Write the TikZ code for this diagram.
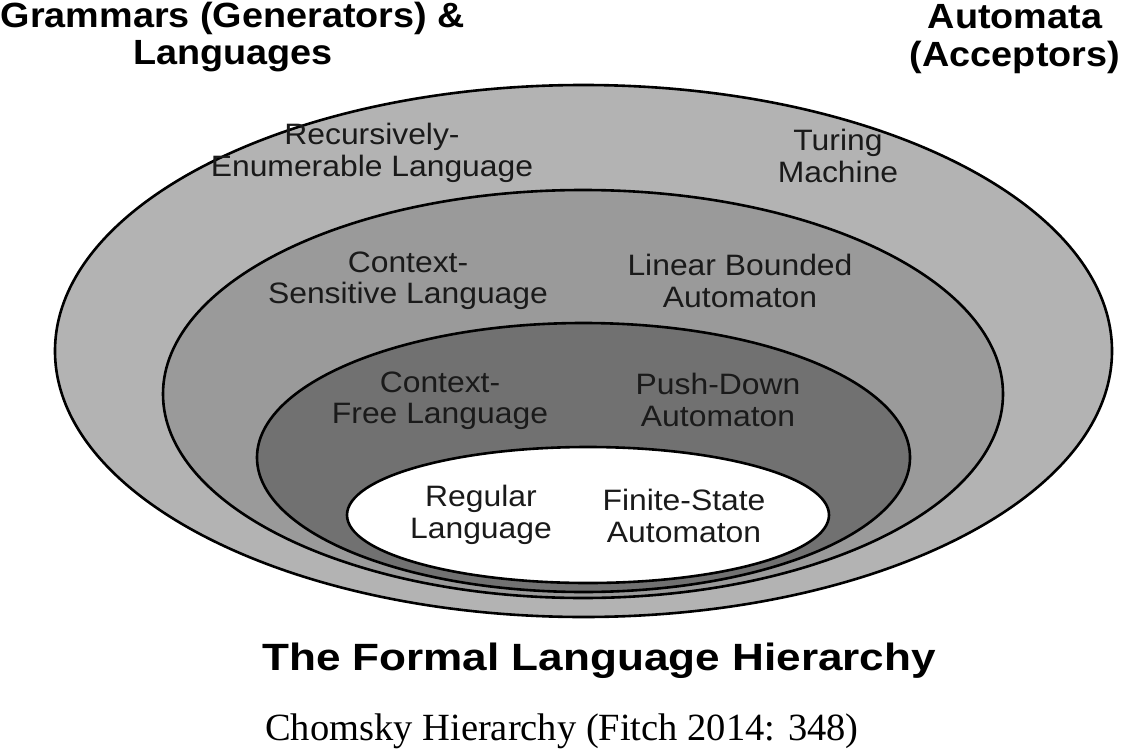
\documentclass[tikz,border=0pt]{standalone}
\usepackage{fontspec}
\setmainfont{Liberation Serif}
\newfontfamily\labfont[FakeStretch=1.08]{Liberation Sans}
\newfontfamily\headfont[FakeStretch=1.08]{Liberation Sans}
\newfontfamily\titlefont[FakeStretch=1.16]{Liberation Sans}
\definecolor{ringA}{HTML}{B3B3B3}
\definecolor{ringB}{HTML}{9A9A9A}
\definecolor{ringC}{HTML}{717171}
\definecolor{inkc}{HTML}{1A1A1A}
\tikzset{
  ring/.style={draw=black, line width=2.6pt},
  lab/.style={align=center, text=inkc, inner sep=0pt, font=\labfont\fontsize{29.5}{31.5}\selectfont},
  head/.style={align=center, text=black, inner sep=0pt, font=\headfont\bfseries\fontsize{35}{37.5}\selectfont},
  titlelab/.style={inner sep=0pt, text=black, font=\titlefont\bfseries\fontsize{38}{40}\selectfont},
  caption/.style={inner sep=0pt, text=black, font=\rmfamily\fontsize{38.5}{40}\selectfont}
}
\begin{document}
\begin{tikzpicture}[x=1pt,y=-1pt]
\fill[white] (0,0) rectangle (1129,752);
\useasboundingbox (0,0) rectangle (1129,752);
% nested sets
\path[ring, fill=ringA] (583.5,351) ellipse [x radius=528.5, y radius=266];
\path[ring, fill=ringB] (583,394) ellipse [x radius=420, y radius=204];
\path[ring, fill=ringC] (583.5,457.5) ellipse [x radius=326.5, y radius=134.5];
\path[ring, fill=white] (588,515) ellipse [x radius=241, y radius=68];
% headings
\node[head] (gram) at (233,37) {Grammars (Generators) \&\\Languages};
\node[head] (auto) at (1015,39) {Automata\\(Acceptors)};
% labels
\node[lab] (re) at (372,153) {Recursively-\\Enumerable Language};
\node[lab] (tm) at (838,156) {Turing\\Machine};
\node[lab] (cs) at (408,281) {Context-\\Sensitive Language};
\node[lab] (lba) at (740,281) {Linear Bounded\\Automaton};
\node[lab] (cf) at (440,401) {Context-\\Free Language};
\node[lab] (pda) at (718,400) {Push-Down\\Automaton};
\node[lab] (reg) at (481,515) {Regular\\Language};
\node[lab] (fsa) at (684,516) {Finite-State\\Automaton};
% titles
\node[titlelab] (title) at (599,661) {The Formal Language Hierarchy};
\node[caption] (cap) at (562,731) {Chomsky Hierarchy (Fitch 2014: 348)};
\end{tikzpicture}
\end{document}
